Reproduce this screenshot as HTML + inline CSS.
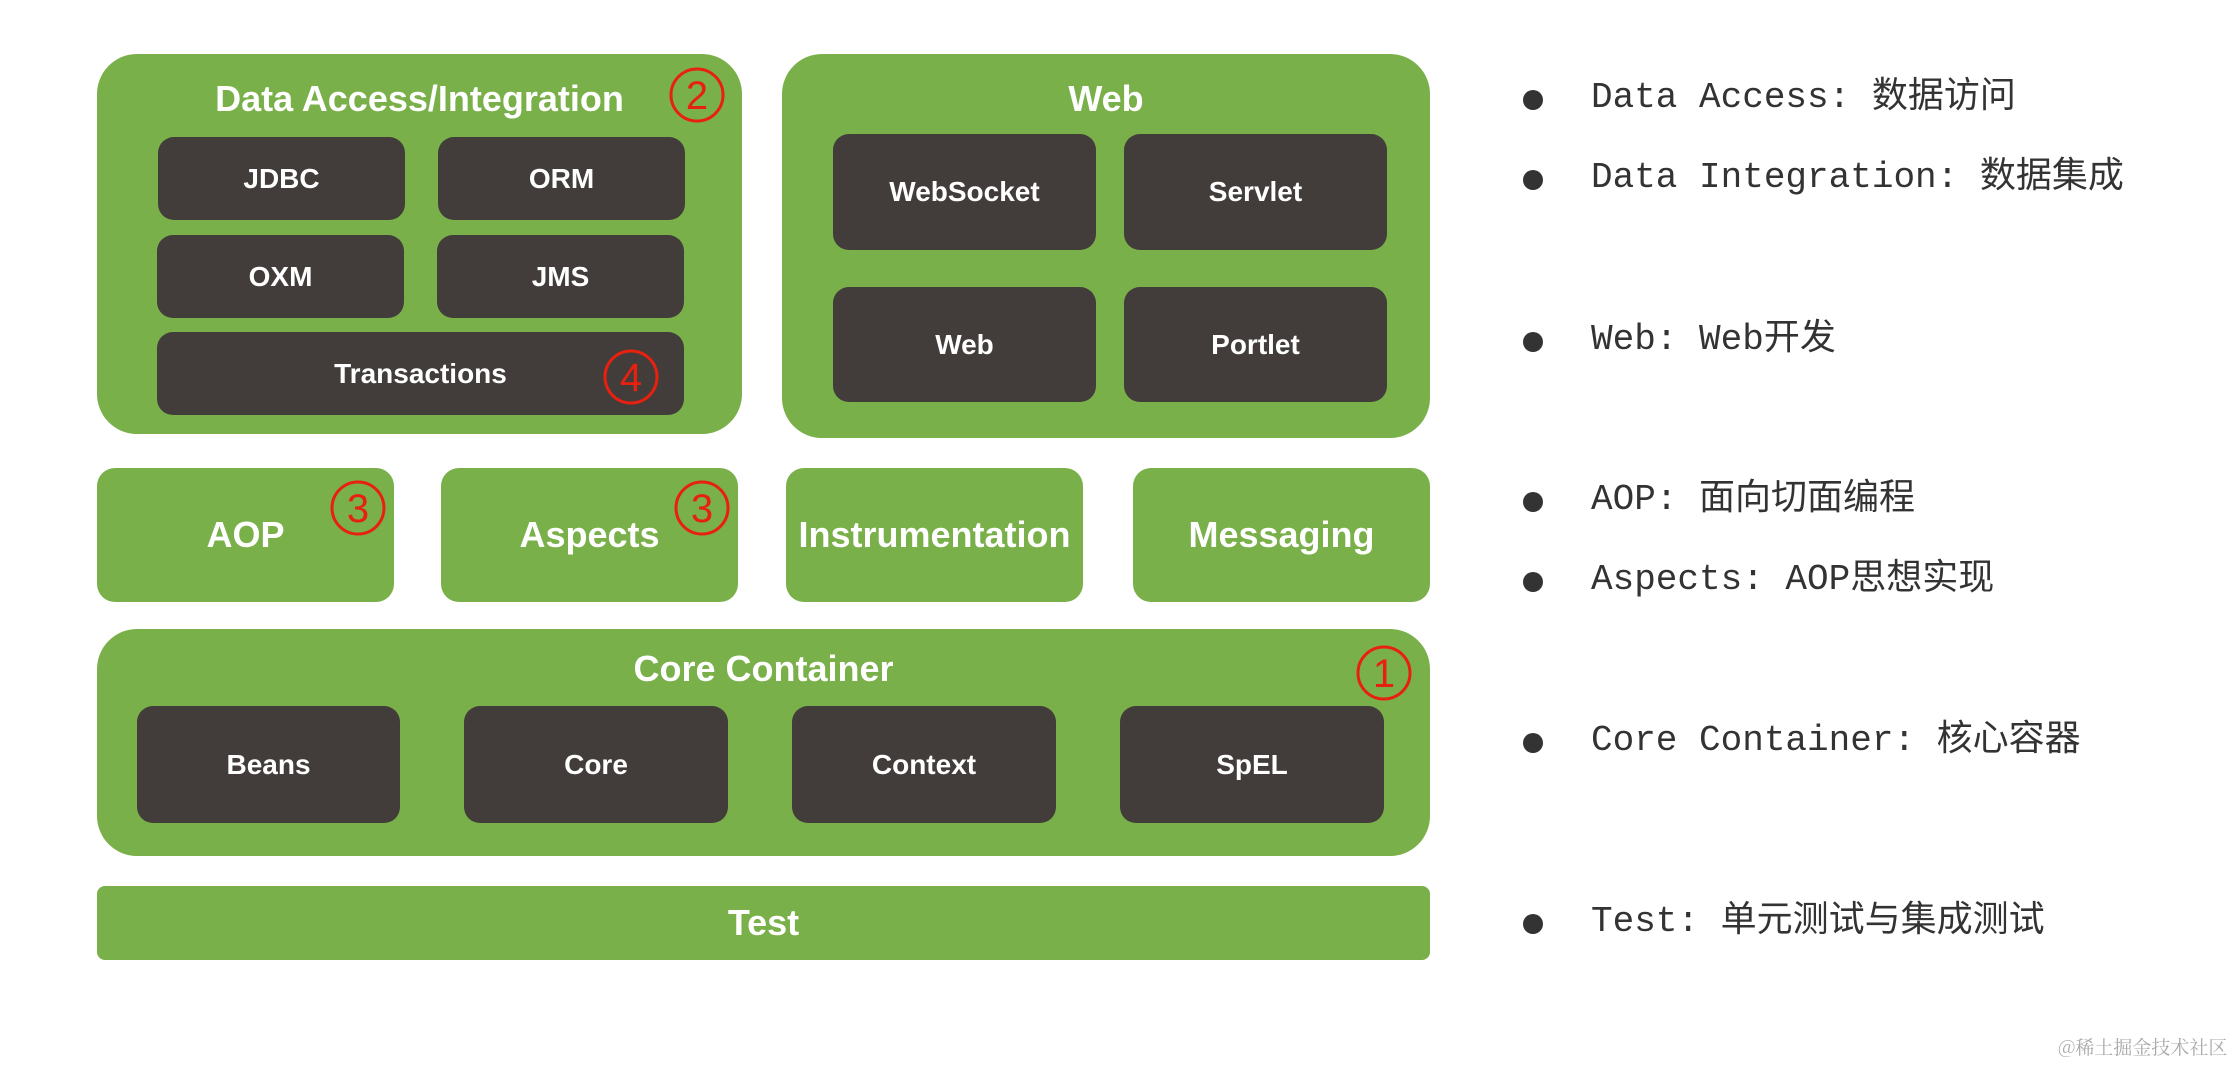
<!DOCTYPE html>
<html><head><meta charset="utf-8"><style>
body{margin:0;width:2237px;height:1065px;background:#fff;position:relative;overflow:hidden;font-family:"Liberation Sans",Arial,sans-serif}
.g{position:absolute;background:#7ab04a;border-radius:40px}
.s{border-radius:18px}
.d{position:absolute;background:#423d3a;border-radius:16px;color:#fff;font-weight:bold;font-size:28px;display:flex;align-items:center;justify-content:center}
.t{position:absolute;color:#fff;font-weight:bold;font-size:36px;text-align:center}
.m{display:flex;align-items:center;justify-content:center;color:#fff;font-weight:bold;font-size:36px}
.n{position:absolute}
.r{position:absolute;left:1591px;font-family:"Liberation Mono","Noto Sans CJK SC",monospace;font-size:36px;color:#333;line-height:40px;white-space:nowrap}
.b{position:absolute;left:1523px;width:20px;height:20px;border-radius:50%;background:#333}
</style></head><body>
<div class="g" style="left:97px;top:54px;width:645px;height:380px"></div>
<div class="t" style="left:97px;top:78px;width:645px;">&nbsp;&nbsp;&nbsp;&nbsp;&nbsp;&nbsp;&nbsp;&nbsp;Data Access/Integration&nbsp;&nbsp;&nbsp;&nbsp;&nbsp;&nbsp;&nbsp;&nbsp;</div>
<div class="d" style="left:158px;top:137px;width:247px;height:83px">JDBC</div>
<div class="d" style="left:438px;top:137px;width:247px;height:83px">ORM</div>
<div class="d" style="left:157px;top:235px;width:247px;height:83px">OXM</div>
<div class="d" style="left:437px;top:235px;width:247px;height:83px">JMS</div>
<div class="d" style="left:157px;top:332px;width:527px;height:83px">Transactions</div>

<div class="g" style="left:782px;top:54px;width:648px;height:384px"></div>
<div class="t" style="left:782px;top:78px;width:648px">Web</div>
<div class="d" style="left:833px;top:134px;width:263px;height:116px">WebSocket</div>
<div class="d" style="left:1124px;top:134px;width:263px;height:116px">Servlet</div>
<div class="d" style="left:833px;top:287px;width:263px;height:115px">Web</div>
<div class="d" style="left:1124px;top:287px;width:263px;height:115px">Portlet</div>

<div class="g s m" style="left:97px;top:468px;width:297px;height:134px">AOP</div>
<div class="g s m" style="left:441px;top:468px;width:297px;height:134px">Aspects</div>
<div class="g s m" style="left:786px;top:468px;width:297px;height:134px">Instrumentation</div>
<div class="g s m" style="left:1133px;top:468px;width:297px;height:134px">Messaging</div>

<div class="g" style="left:97px;top:629px;width:1333px;height:227px"></div>
<div class="t" style="left:97px;top:648px;width:1333px">Core Container</div>
<div class="d" style="left:137px;top:706px;width:263px;height:117px">Beans</div>
<div class="d" style="left:464px;top:706px;width:264px;height:117px">Core</div>
<div class="d" style="left:792px;top:706px;width:264px;height:117px">Context</div>
<div class="d" style="left:1120px;top:706px;width:264px;height:117px">SpEL</div>

<div class="g s m" style="left:97px;top:886px;width:1333px;height:74px;border-radius:8px">Test</div>

<svg class="n" style="left:0;top:0" width="1450" height="1065">
<g fill="none" stroke="#e8200f" stroke-width="3">
<circle cx="697" cy="95" r="26"/><circle cx="631" cy="377" r="26"/><circle cx="358" cy="508" r="26"/><circle cx="702" cy="508" r="26"/><circle cx="1384" cy="673" r="26"/></g>
<g fill="#e8200f" font-family="Liberation Sans,sans-serif" font-size="40" text-anchor="middle">
<text x="697" y="109">2</text><text x="631" y="391">4</text><text x="358" y="522">3</text><text x="702" y="522">3</text><text x="1384" y="687">1</text></g>
</svg>

<div class="b" style="top:90px"></div><div class="r" style="top:78px">Data Access: 数据访问</div>
<div class="b" style="top:170px"></div><div class="r" style="top:158px">Data Integration: 数据集成</div>
<div class="b" style="top:332px"></div><div class="r" style="top:320px">Web: Web开发</div>
<div class="b" style="top:492px"></div><div class="r" style="top:480px">AOP: 面向切面编程</div>
<div class="b" style="top:572px"></div><div class="r" style="top:560px">Aspects: AOP思想实现</div>
<div class="b" style="top:733px"></div><div class="r" style="top:721px">Core Container: 核心容器</div>
<div class="b" style="top:914px"></div><div class="r" style="top:902px">Test: 单元测试与集成测试</div>
<div style="position:absolute;left:2058px;top:1033px;white-space:nowrap;font-family:'Noto Serif CJK SC',serif;font-size:19px;color:#aaa">@稀土掘金技术社区</div>
</body></html>
